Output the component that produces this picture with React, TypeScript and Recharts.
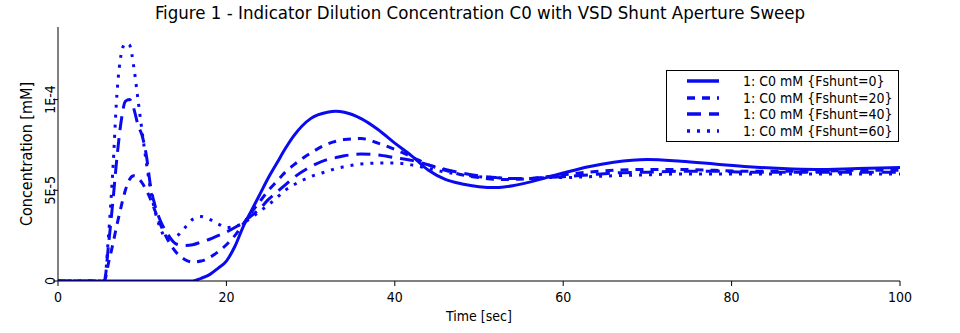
import React from "react";
import { LineChart, Line, XAxis, YAxis, Legend } from "recharts";

// time points (sec) and concentrations in units of 1E-5 mM
const time = [0, 5, 5.5, 6, 6.5, 7, 7.5, 8, 8.5, 9, 9.5, 10, 10.5, 11, 11.5, 12, 13, 14, 15, 16, 17, 18, 19, 20, 21, 22, 23, 24, 25, 26, 27, 28, 30, 32, 33, 34, 36, 38, 40, 42, 44, 46, 48, 50, 52, 54, 56, 58, 60, 63, 66, 70, 74, 78, 82, 86, 90, 95, 100];

const fshunt0 = [0, 0, 0, 0, 0, 0, 0, 0, 0, 0, 0, 0, 0, 0, 0, 0, 0, 0, 0, 0, 0.15, 0.35, 0.7, 1.1, 1.9, 3.0, 3.9, 4.8, 5.7, 6.5, 7.3, 8.0, 8.95, 9.3, 9.35, 9.3, 8.95, 8.35, 7.6, 6.9, 6.1, 5.6, 5.35, 5.2, 5.15, 5.25, 5.45, 5.7, 5.95, 6.3, 6.55, 6.7, 6.6, 6.45, 6.3, 6.2, 6.15, 6.2, 6.25];
const fshunt20 = [0, 0, 0, 1.0, 2.0, 3.1, 4.1, 5.0, 5.6, 5.8, 5.7, 5.4, 5.0, 4.5, 3.9, 3.3, 2.3, 1.6, 1.2, 1.05, 1.1, 1.3, 1.6, 2.0, 2.5, 3.15, 3.8, 4.4, 5.0, 5.5, 6.0, 6.4, 7.05, 7.55, 7.7, 7.8, 7.85, 7.6, 7.25, 6.85, 6.4, 6.1, 5.85, 5.7, 5.6, 5.6, 5.65, 5.75, 5.85, 6.0, 6.1, 6.15, 6.15, 6.1, 6.05, 6.05, 6.05, 6.1, 6.1];
const fshunt40 = [0, 0, 0, 2.0, 4.3, 6.8, 8.8, 9.9, 10.0, 9.5, 8.6, 8.0, 6.9, 5.2, 4.2, 3.5, 2.6, 2.05, 1.95, 2.0, 2.15, 2.3, 2.5, 2.7, 2.95, 3.25, 3.6, 4.0, 4.5, 4.9, 5.3, 5.7, 6.3, 6.7, 6.8, 6.9, 7.0, 6.95, 6.8, 6.65, 6.4, 6.15, 5.95, 5.8, 5.7, 5.65, 5.65, 5.7, 5.75, 5.85, 5.95, 6.0, 6.05, 6.05, 6.0, 6.0, 6.0, 6.0, 6.0];
const fshunt60 = [0, 0, 0, 2.5, 6.0, 10.3, 12.5, 13.1, 13.0, 11.8, 10.0, 8.2, 6.5, 5.0, 3.9, 3.1, 2.35, 2.45, 2.9, 3.4, 3.55, 3.4, 3.15, 2.95, 3.0, 3.2, 3.5, 3.85, 4.2, 4.6, 5.0, 5.3, 5.75, 6.05, 6.2, 6.3, 6.45, 6.5, 6.5, 6.4, 6.2, 6.0, 5.85, 5.75, 5.7, 5.65, 5.65, 5.7, 5.7, 5.75, 5.8, 5.85, 5.9, 5.9, 5.9, 5.9, 5.9, 5.9, 5.9];

const xTicks = [0, 20, 40, 60, 80, 100];
const yTicks = [0, 5e-5, 1e-4];
const yTickLabels = ["0", "5E-5", "1E-4"];

const series = [
  { key: "s0", name: "1: C0 mM {Fshunt=0}", dash: undefined },
  { key: "s20", name: "1: C0 mM {Fshunt=20}", dash: "8 7" },
  { key: "s40", name: "1: C0 mM {Fshunt=40}", dash: "14 8" },
  { key: "s60", name: "1: C0 mM {Fshunt=60}", dash: "3 7" },
];

const data = time.map((t, i) => ({
  t,
  s0: fshunt0[i] * 1e-5,
  s20: fshunt20[i] * 1e-5,
  s40: fshunt40[i] * 1e-5,
  s60: fshunt60[i] * 1e-5,
}));

const BLUE = "#0a0af0";
const FONT = "'DejaVu Sans Condensed', 'DejaVu Sans', sans-serif";

const XTick = (props: any) => {
  const { x, payload } = props;
  return (
    <text x={x} y={302} textAnchor="middle" fontSize={14} fontFamily={FONT} fill="#000">
      {payload.value}
    </text>
  );
};

const YTick = (props: any) => {
  const { y, payload, index } = props;
  return (
    <text x={55} y={y} textAnchor="middle" fontSize={14} fontFamily={FONT} fill="#000"
      transform={`rotate(-90, 55, ${y})`}>
      {yTickLabels[index] ?? payload.value}
    </text>
  );
};

const YLabel = (props: any) => {
  const { viewBox } = props;
  const cy = viewBox.y + viewBox.height / 2;
  return (
    <text x={32} y={cy} textAnchor="middle" fontSize={16} fontFamily={FONT} fill="#000"
      transform={`rotate(-90, 32, ${cy})`}>
      Concentration [mM]
    </text>
  );
};

const LegendBox = () => (
  <div style={{ border: "1px solid #000", background: "#fff", width: 231, padding: "2px 0", fontFamily: FONT, fontSize: 14 }}>
    {series.map(s => (
      <div key={s.key} style={{ display: "flex", alignItems: "center", height: 16.5 }}>
        <svg width={60} height={10}>
          <line x1={20} x2={52} y1={5} y2={5} stroke={BLUE} strokeWidth={3.5} strokeDasharray={s.dash} />
        </svg>
        <span style={{ marginLeft: 16, whiteSpace: "nowrap" }}>{s.name}</span>
      </div>
    ))}
  </div>
);

export default function App() {
  return (
    <div style={{ position: "absolute", left: 0, top: 0, width: 960, height: 333, background: "#fff" }}>
      <svg width={960} height={26} style={{ position: "absolute", left: 0, top: 0 }}>
        <text x={480} y={19} textAnchor="middle" fontSize={18.5} fontFamily={FONT} fill="#000">
          Figure 1 - Indicator Dilution Concentration C0 with VSD Shunt Aperture Sweep
        </text>
      </svg>
      <LineChart width={960} height={333} data={data} margin={{ top: 27, right: 60, left: 0, bottom: 0 }}>
        <XAxis dataKey="t" type="number" domain={[0, 100]} ticks={xTicks} tick={<XTick />}
          stroke="#000" tickSize={5} height={52}
          label={{ value: "Time [sec]", position: "insideBottom", offset: 12, fontSize: 14, fontFamily: FONT, fill: "#000" }} />
        <YAxis type="number" domain={[0, 1.4e-4]} ticks={yTicks} tick={<YTick />}
          stroke="#000" tickSize={5} width={58} allowDataOverflow
          label={<YLabel />} />
        <Legend content={<LegendBox />} layout="horizontal" verticalAlign="middle" align="center"
          wrapperStyle={{ left: 666, top: 70, width: 233 }} />
        {series.map(s => (
          <Line key={s.key} dataKey={s.key} name={s.name} type="monotone" stroke={BLUE} strokeWidth={3}
            strokeDasharray={s.dash} dot={false} isAnimationActive={false} />
        ))}
      </LineChart>
    </div>
  );
}
